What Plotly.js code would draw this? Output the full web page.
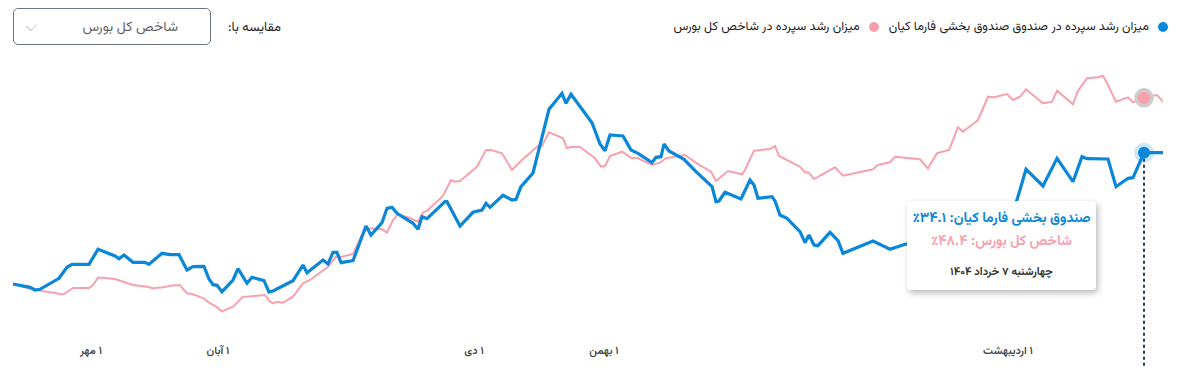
<!DOCTYPE html>
<html>
<head>
<meta charset="utf-8">
<script src="https://cdn.plot.ly/plotly-3.0.1.min.js"></script>
<style>
  html, body { margin:0; padding:0; background:#fff; }
  body { width:1181px; height:377px; position:relative; overflow:hidden;
         font-family: "Vazirmatn", "Noto Sans Arabic", "DejaVu Sans", sans-serif; }
  #chart { position:absolute; left:0; top:0; width:1181px; height:377px; }
  .legend { position:absolute; top:17px; right:13px; direction:rtl; display:flex; align-items:center;
            font-size:12.5px; color:#222; white-space:nowrap; }
  .legend .item { display:flex; align-items:center; margin-left:10px; }
  .legend .dot { width:10px; height:10px; border-radius:50%; margin-left:9px; }
  .cmp-label { position:absolute; top:18px; left:228px; direction:rtl; font-size:13px; color:#222; }
  .select { position:absolute; left:13px; top:8px; width:198px; height:37px; border:1px solid #6c7683;
            border-radius:5px; box-sizing:border-box; direction:rtl; }
  .select .txt { position:absolute; right:32px; top:8px; font-size:14px; color:#666; }
  .select .chev { position:absolute; left:13px; top:12px; width:8px; height:8px;
            border-right:1px solid #c5c5c5; border-bottom:1px solid #c5c5c5; transform:rotate(45deg) scaleX(0.8); }
  .tip { position:absolute; left:907px; top:201px; width:189px; height:89px; background:#fff;
         border-radius:4px; box-shadow:2px 3px 6px rgba(0,0,0,0.28); direction:rtl; text-align:center; }
  .tip .l1 { position:absolute; top:7px; left:0; right:0; font-size:14px; font-weight:bold; color:#0b87da; }
  .tip .l2 { position:absolute; top:30px; left:0; right:0; font-size:14px; font-weight:bold; color:#f8a1ad; }
  .tip .l3 { position:absolute; top:63px; left:0; right:0; font-size:11px; font-weight:bold; color:#333; }
</style>
</head>
<body>
<div id="chart"></div>
<div class="legend">
  <div class="item"><span class="dot" style="background:#0b87da"></span><span id="lg1"></span></div>
  <div class="item"><span class="dot" style="background:#f8a1ad"></span><span id="lg2"></span></div>
</div>
<div class="cmp-label">مقایسه با:</div>
<div class="select"><span class="txt">شاخص کل بورس</span><span class="chev"></span></div>
<div class="tip"><div class="l1" id="t1"></div><div class="l2" id="t2"></div><div class="l3" id="t3"></div></div>
<script>
// ---- data (x: position along the time axis, y: cumulative growth %) ----
const fundName = 'صندوق بخشی فارما کیان';
const indexName = 'شاخص کل بورس';
const legendFund = 'میزان رشد سپرده در صندوق صندوق بخشی فارما کیان';
const legendIndex = 'میزان رشد سپرده در شاخص کل بورس';

const fundX = [13,30,35,40,59,67,72,89,98,115,119,124,133,145,149,162,170,179,187,193,204,209,213,217,222,233,238,247,252,264,269,273,293,303,307,323,328,333,337,341,353,366,371,382,387,392,397,413,418,422,427,445,447,460,473,482,486,490,503,512,516,521,533,549,562,566,571,592,600,605,610,623,631,638,652,656,661,664,669,684,696,712,716,719,725,741,750,754,758,772,775,780,787,800,805,809,814,818,830,838,843,860,873,890,905,930,960,990,1005,1017,1026,1043,1057,1073,1082,1087,1108,1116,1128,1133,1144,1152,1163];
const fundY = [0,-0.86,-1.56,-1.38,1.48,4.34,5.12,5.12,9.02,7.28,6.58,7.54,5.64,5.64,5.12,7.98,7.62,7.62,3.64,4.50,4.60,1.30,-0.18,-0.34,-2.00,1.04,3.98,0.18,1.74,0.86,-2.08,-1.82,0.86,4.94,2.94,6.24,5.20,8.24,8.24,5.54,6.06,15.08,12.74,15.94,19.68,19.94,18.38,15.78,14.22,17.50,16.98,21.40,21.40,15.08,18.64,19.24,20.98,19.94,23.06,21.84,22.02,25.30,28.86,45.42,49.58,46.98,49.32,41.94,36.40,34.66,38.74,38.48,34.84,33.98,31.54,32.94,33.10,36.40,34.58,32.42,29.20,25.30,21.40,21.58,23.84,22.10,27.04,25.74,22.28,22.70,21.58,17.94,17.08,13.60,10.74,12.74,10.14,9.96,13.44,11.26,7.98,9.70,11.18,9.02,10.32,11.44,12.48,14.04,16.12,21.84,29.82,25.48,32.68,26.60,33.10,32.58,32.50,25.30,27.48,27.64,34.1,34.14,34.14];

const indexX = [13,27,32,50,55,60,64,73,89,93,98,103,115,133,147,153,163,174,180,187,193,204,209,216,222,233,243,247,255,265,269,273,277,283,293,300,303,310,328,336,340,353,362,367,382,387,393,398,409,418,423,427,443,451,455,460,477,486,491,502,512,522,538,542,549,563,567,572,580,595,601,605,610,622,631,638,652,660,666,685,697,711,716,728,742,745,754,770,775,779,800,805,809,814,835,843,860,873,878,890,895,920,928,937,949,958,963,978,988,994,1007,1013,1020,1026,1043,1052,1057,1073,1078,1087,1098,1103,1108,1116,1128,1133,1144,1157,1163];
const indexY = [0,-1.04,-1.38,-2.16,-2.26,-2.68,-2.60,-1.04,-1.04,-0.26,1.64,1.64,1.30,-0.26,-0.70,-1.12,-0.86,-0.34,-0.34,-2.42,-2.68,-3.82,-4.86,-5.90,-7.10,-5.90,-3.30,-3.30,-3.04,-2.86,-4.34,-5.02,-4.60,-4.86,-3.30,-0.90,0.18,1.04,4.50,7.10,6.94,7.80,12.74,14.48,14.22,13.34,16.64,18.12,17.24,16.20,18.54,19.06,22.88,27.04,26.60,26.78,30.50,34.84,34.84,33.98,29.64,32.24,35.88,35.88,39.44,37.88,35.28,35.70,35.62,32.68,30.50,30.68,33.28,34.40,32.84,32.68,30.94,31.54,32.68,33.54,31.38,29.20,26.78,29.38,28.52,29.64,34.66,35.10,35.88,33.28,30.50,29.04,28.94,27.30,30.34,28.16,29.04,29.84,30.94,31.64,33.10,32.42,30.08,34.00,34.84,40.74,39.60,42.64,48.70,48.54,49.40,47.84,48.70,50.62,46.98,47.40,50.26,46.72,50.26,53.48,53.74,54.16,51.74,47.40,48.54,47.24,48.4,49.14,47.40];

const tickVals = [91, 218, 474, 604, 1008];
const tickText = ['۱ مهر', '۱ آبان', '۱ دی', '۱ بهمن', '۱ اردیبهشت'];

const hoverX = 1144;
const hoverDate = 'چهارشنبه ۷ خرداد ۱۴۰۴';

// ---- helpers ----
const fa = s => String(s).replace(/\d/g, d => '۰۱۲۳۴۵۶۷۸۹'[d]);
const RLE = '\u202B', PDF = '\u202C';
const fundHover = fundY[fundX.indexOf(hoverX)];
const indexHover = indexY[indexX.indexOf(hoverX)];

document.getElementById('lg1').textContent = legendFund;
document.getElementById('lg2').textContent = legendIndex;
document.getElementById('t1').textContent = fundName + ': ' + fa(fundHover.toFixed(1)) + '٪';
document.getElementById('t2').textContent = indexName + ': ' + fa(indexHover.toFixed(1)) + '٪';
document.getElementById('t3').textContent = hoverDate;

const BLUE = '#0b87da', PINK = '#f8a1ad';
const yRange = [-13.78, 58.24];
const paperOf = v => (v - yRange[0]) / (yRange[1] - yRange[0]);

const traces = [
  {x: indexX, y: indexY, type: 'scatter', mode: 'lines', line: {color: PINK, width: 2}, hoverinfo: 'skip'},
  {x: fundX, y: fundY, type: 'scatter', mode: 'lines', line: {color: BLUE, width: 3.2}, hoverinfo: 'skip'},
  {x: [hoverX], y: [indexHover], type: 'scatter', mode: 'markers', cliponaxis: false,
   marker: {size: 16, color: PINK, line: {color: '#cccccc', width: 3.5}}, hoverinfo: 'skip'},
  {x: [hoverX], y: [fundHover], type: 'scatter', mode: 'markers', cliponaxis: false,
   marker: {size: 20, color: 'rgba(11,135,218,0.2)'}, hoverinfo: 'skip'},
  {x: [hoverX], y: [fundHover], type: 'scatter', mode: 'markers', cliponaxis: false,
   marker: {size: 12, color: BLUE}, hoverinfo: 'skip'}
];

const layout = {
  width: 1181, height: 377,
  margin: {l: 12, r: 18, t: 60, b: 40},
  paper_bgcolor: '#ffffff', plot_bgcolor: '#ffffff',
  showlegend: false,
  hovermode: false,
  font: {family: 'Vazirmatn, "Noto Sans Arabic", "DejaVu Sans", sans-serif'},
  xaxis: {
    range: [12, 1163], showgrid: false, zeroline: false, showline: false,
    tickmode: 'array', tickvals: tickVals, ticktext: tickText.map(t => RLE + t + PDF),
    ticks: 'outside', ticklen: 3, tickcolor: 'rgba(0,0,0,0)',
    tickfont: {size: 11, color: '#444', weight: 600}
  },
  yaxis: {range: yRange, visible: false, showgrid: false, zeroline: false},
  shapes: [{
    type: 'line', xref: 'x', yref: 'paper', layer: 'below',
    x0: hoverX, x1: hoverX, y0: paperOf(fundHover), y1: -0.105,
    line: {color: '#1f3b70', width: 2, dash: 'dot'}
  }]
};

Plotly.newPlot('chart', traces, layout, {staticPlot: true, displayModeBar: false});
</script>
</body>
</html>
